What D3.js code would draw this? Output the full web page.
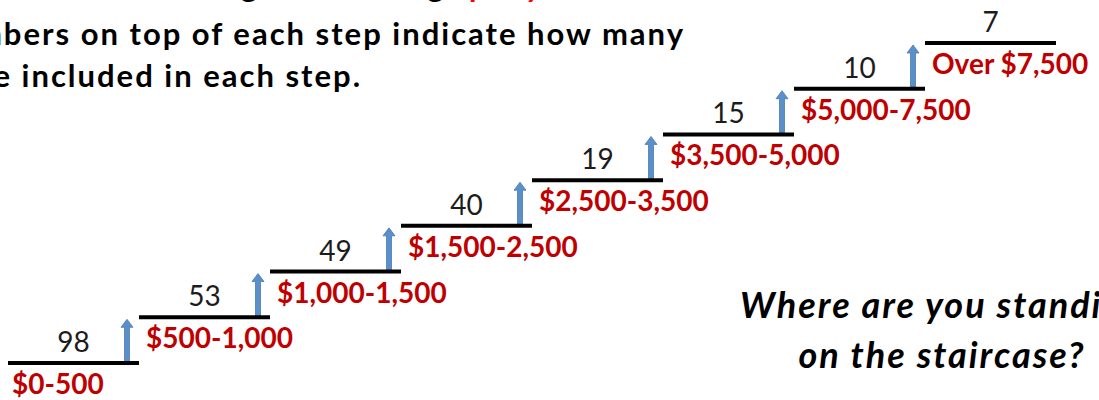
<!DOCTYPE html>
<html>
<head>
<meta charset="utf-8">
<script src="https://cdn.jsdelivr.net/npm/d3@7"></script>
<style>
  body { margin: 0; background: #fff; }
  svg { display: block; }
  .title { font-family: Lato, "Open Sans", sans-serif; font-weight: bold; font-size: 31px; letter-spacing: 2px; fill: #000; }
  .count { font-family: Lato, "Open Sans", sans-serif; font-size: 28px; fill: #1c1c1c; }
  .range { font-family: Lato, "Open Sans", sans-serif; font-weight: bold; font-size: 28px; fill: #c00000; }
  .question { font-family: Lato, "Open Sans", sans-serif; font-weight: bold; font-style: italic; font-size: 36px; letter-spacing: 2px; fill: #000; }
</style>
</head>
<body>
<div id="stairs"></div>
<script>
// data
var ranges = ["$0-500", "$500-1,000", "$1,000-1,500", "$1,500-2,500", "$2,500-3,500",
  "$3,500-5,000", "$5,000-7,500", "Over $7,500"];
var counts = [98, 53, 49, 40, 19, 15, 10, 7];
var titleLines = [
  ["Each step indicates a range of earnings ", "per year."],
  ["The numbers on top of each step indicate how many"],
  ["people are included in each step."]
];
var questionLines = ["Where are you standing", "on the staircase?"];

var width = 1099, height = 400;
var svg = d3.select("#stairs").append("svg")
  .attr("width", width)
  .attr("height", height);

var steps = ranges.map(function(r, i){ return {range: r, count: counts[i], level: i}; });

var x = d3.scaleBand()
  .domain(ranges)
  .range([8, 1056]);

var y = d3.scaleLinear()
  .domain([0, ranges.length - 1])
  .range([363, 43]);

// title (cropped on the left and top in the original)
var title = svg.append("g");
titleLines.forEach(function(parts, i){
  var t = title.append("text")
    .attr("class", "title")
    .attr("text-anchor", "end")
    .attr("x", [600, 685, 362][i])
    .attr("y", [-3, 45, 87][i]);
  parts.forEach(function(p, j){
    var ts = t.append("tspan").text(p);
    if (j == 1) ts.style("fill", "#ff0000").style("font-style", "italic");
  });
});

// arrows going up to the next step
svg.append("g").attr("class", "arrows")
  .selectAll("path").data(steps.slice(0, -1)).enter().append("path")
  .attr("fill", "#5b8fc9")
  .attr("stroke", "#4a7ab2")
  .attr("stroke-width", 0.8)
  .attr("d", function(d){
    var cx = x(d.range) + x.bandwidth() - 12;
    var y0 = y(d.level) - 1, y1 = y(d.level + 1) + 2;
    return "M" + (cx - 2.5) + "," + y0 + "L" + (cx - 2.5) + "," + (y1 + 8) +
      "L" + (cx - 6) + "," + (y1 + 8) + "L" + cx + "," + y1 + "L" + (cx + 6) + "," + (y1 + 8) +
      "L" + (cx + 2.5) + "," + (y1 + 8) + "L" + (cx + 2.5) + "," + y0 + "Z";
  });

// steps
var step = svg.append("g").attr("class", "steps")
  .selectAll("g").data(steps).enter().append("g");

step.append("line")
  .attr("x1", function(d){ return x(d.range); })
  .attr("x2", function(d){ return x(d.range) + x.bandwidth(); })
  .attr("y1", function(d){ return y(d.level); })
  .attr("y2", function(d){ return y(d.level); })
  .attr("stroke", "#000")
  .attr("stroke-width", 4);

step.append("text")
  .attr("class", "count")
  .attr("text-anchor", "middle")
  .attr("x", function(d){ return x(d.range) + x.bandwidth() / 2; })
  .attr("y", function(d){ return y(d.level) - 11; })
  .text(function(d){ return d.count; });

step.append("text")
  .attr("class", "range")
  .attr("x", function(d){ return x(d.range) + (d.level == 0 ? 4 : 7); })
  .attr("y", function(d){ return y(d.level) + 31; })
  .text(function(d){ return d.range; });

// question
svg.append("g").selectAll("text").data(questionLines).enter().append("text")
  .attr("class", "question")
  .attr("text-anchor", "middle")
  .attr("x", 942)
  .attr("y", function(d, i){ return 318 + i * 50; })
  .text(function(d){ return d; });
</script>
</body>
</html>
